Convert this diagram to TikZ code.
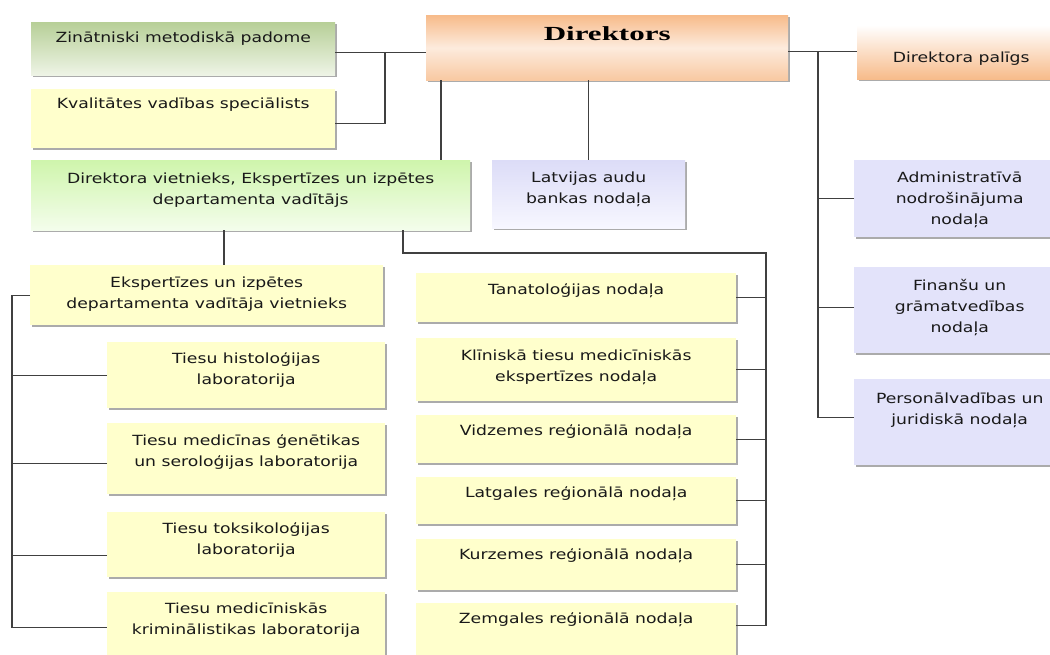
\documentclass[tikz,border=0pt]{standalone}
\usepackage{fontspec}
\setmainfont{DejaVu Sans}[FakeStretch=1.23]
\newfontfamily\dirfont{Liberation Serif}[FakeStretch=1.55]
\usetikzlibrary{shadows}

\definecolor{linegray}{HTML}{404040}
\definecolor{unityellow}{HTML}{FFFFCC}
\definecolor{unitlilac}{HTML}{E3E3FA}
\definecolor{zinTop}{HTML}{B7CF97}
\definecolor{zinBot}{HTML}{EEF4E6}
\definecolor{vietTop}{HTML}{CFF5AC}
\definecolor{vietBot}{HTML}{F4FDEC}
\definecolor{dirOrange}{HTML}{F7BB8A}
\definecolor{dirLight}{HTML}{FDEBDD}
\definecolor{latvTop}{HTML}{DCDCF7}
\definecolor{latvBot}{HTML}{F7F7FF}

% text block of a box: width, height, first baseline, text
\newcommand{\boxtext}[4]{\parbox[c][#2][t]{#1}{\centering\rule{0pt}{#3}#4\par}}

\begin{document}
\begin{tikzpicture}[x=1pt, y=-1pt,
		unit/.style={inner sep=0pt, anchor=north west, text=black!90,
			font=\fontsize{14}{21}\selectfont,
			drop shadow={shadow xshift=1.5pt, shadow yshift=-1.5pt, fill=black!55, opacity=.6}},
		yellowunit/.style={unit, fill=unityellow},
		lilacunit/.style={unit, fill=unitlilac},
		link/.style={draw=linegray, line width=1.1pt}
		]
		\path[fill=white, use as bounding box] (0,0) rectangle (1050,655);
		
		% Top level
		\node[unit, top color=zinTop, bottom color=zinBot] (zin) at (31,22) {\boxtext{304pt}{53pt}{20pt}{Zinātniski metodiskā padome}};
		\node[yellowunit] (kval) at (31,89) {\boxtext{304pt}{59pt}{19pt}{Kvalitātes vadības speciālists}};
		\node[unit, top color=dirOrange, bottom color=dirOrange!80, middle color=dirLight, font=\dirfont\bfseries\fontsize{20}{24}\selectfont, text=black] (dir) at (426,15) {\boxtext{362pt}{65pt}{25pt}{Direktors}};
		\node[unit, top color=white, bottom color=dirOrange] (palig) at (857,25) {\boxtext{208pt}{54pt}{37pt}{Direktora palīgs}};
		
		% Second level
		\node[unit, top color=vietTop, bottom color=vietBot] (viet) at (31,160) {\boxtext{439pt}{70pt}{23pt}{Direktora vietnieks, Ekspertīzes un izpētes\\departamenta vadītājs}};
		\node[unit, top color=latvTop, bottom color=latvBot] (latv) at (492,160) {\boxtext{193pt}{68pt}{22pt}{Latvijas audu\\bankas nodaļa}};
		\node[lilacunit] (admin) at (854,160) {\boxtext{211pt}{77pt}{22pt}{Administratīvā\\nodrošinājuma\\nodaļa}};
		\node[lilacunit] (fin) at (854,267) {\boxtext{211pt}{86pt}{23pt}{Finanšu un\\grāmatvedības\\nodaļa}};
		\node[lilacunit] (pers) at (854,379) {\boxtext{211pt}{86pt}{24pt}{Personālvadības un\\juridiskā nodaļa}};
		
		% Laboratories
		\node[yellowunit] (ekvi) at (30,265) {\boxtext{353pt}{60pt}{22pt}{Ekspertīzes un izpētes\\departamenta vadītāja vietnieks}};
		\node[yellowunit] (histo) at (107,342) {\boxtext{278pt}{66pt}{21pt}{Tiesu histoloģijas\\laboratorija}};
		\node[yellowunit] (gen) at (107,423) {\boxtext{278pt}{71pt}{22pt}{Tiesu medicīnas ģenētikas\\un seroloģijas laboratorija}};
		\node[yellowunit] (tox) at (107,512) {\boxtext{278pt}{65pt}{21pt}{Tiesu toksikoloģijas\\laboratorija}};
		\node[yellowunit] (krim) at (107,592) {\boxtext{278pt}{63pt}{21pt}{Tiesu medicīniskās\\kriminālistikas laboratorija}};
		
		% Departments
		\node[yellowunit] (tana) at (416,273) {\boxtext{320pt}{49pt}{21pt}{Tanatoloģijas nodaļa}};
		\node[yellowunit] (klin) at (416,338) {\boxtext{320pt}{63pt}{22pt}{Klīniskā tiesu medicīniskās\\ekspertīzes nodaļa}};
		\node[yellowunit] (vidz) at (416,415) {\boxtext{320pt}{48pt}{20pt}{Vidzemes reģionālā nodaļa}};
		\node[yellowunit] (latg) at (416,477) {\boxtext{320pt}{47pt}{20pt}{Latgales reģionālā nodaļa}};
		\node[yellowunit] (kurz) at (416,539) {\boxtext{320pt}{51pt}{20pt}{Kurzemes reģionālā nodaļa}};
		\node[yellowunit] (zemg) at (416,603) {\boxtext{320pt}{52pt}{20pt}{Zemgales reģionālā nodaļa}};
		
		% Trunk lines
		\coordinate (lj) at (385,0);
		\coordinate (rt) at (818,0);
		\coordinate (dl) at (441,0);
		\coordinate (vx) at (224,0);
		\coordinate (vr) at (403,253);
		\coordinate (mt) at (766,0);
		\coordinate (lt) at (12,0);
		\coordinate (zc) at ([yshift=-3.5pt]zin.east);
		\coordinate (kc) at ([yshift=-4.5pt]kval.east);
		\coordinate (dc) at ([yshift=-4pt]dir.east);
		\coordinate (fc) at ([yshift=3pt]fin.west);
		\coordinate (pc) at ([yshift=5pt]pers.west);
		\coordinate (zmc) at ([yshift=4pt]zemg.east);
		\coordinate (gc) at ([yshift=-4.5pt]gen.west);
		\coordinate (tc) at ([yshift=-11pt]tox.west);
		\coordinate (krc) at ([yshift=-3.5pt]krim.west);
		
		% Connectors
		\draw[link] (zc) -- (zc -| dir.west);
		\draw[link] (kc) -| (lj |- zc);
		\draw[link] (dc) -- (dc -| palig.west);
		\draw[link] (rt |- dc) |- (pc);
		\draw[link] (admin.west) -- (admin.west -| rt);
		\draw[link] (fc) -- (fc -| rt);
		\draw[link] (dl |- dir.south) -- (dl |- viet.north);
		\draw[link] (latv.north) -- (latv.north |- dir.south);
		\draw[link] (vx |- viet.south) -- (vx |- ekvi.north);
		\draw[link] (vr |- viet.south) -- (vr) -| (mt |- zmc) -- (zmc);
		\foreach \n in {tana,klin,vidz,latg,kurz}
		\draw[link] (\n.east) -- (\n.east -| mt);
		\draw[link] (ekvi.west) -| (lt |- krc) -- (krc);
		\draw[link] (histo.west) -- (histo.west -| lt);
		\draw[link] (gc) -- (gc -| lt);
		\draw[link] (tc) -- (tc -| lt);
		
	\end{tikzpicture}
\end{document}
